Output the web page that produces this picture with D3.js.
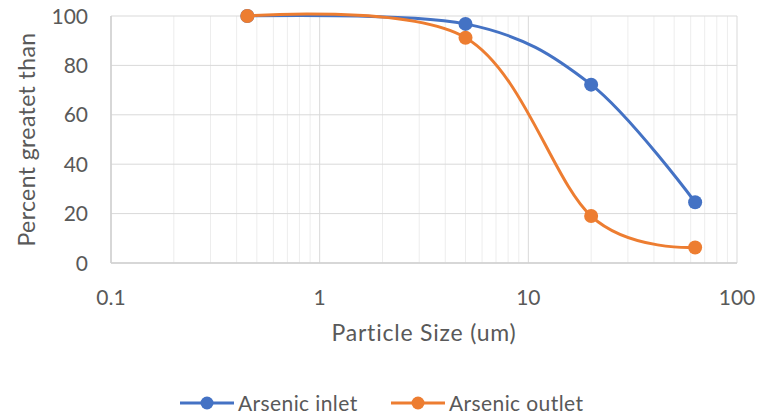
<!DOCTYPE html>
<html>
<head>
<meta charset="utf-8">
<script src="https://cdn.jsdelivr.net/npm/d3@7"></script>
<style>
  body { margin: 0; background: #fff; }
  svg text { font-family: Lato, "Open Sans", sans-serif; fill: #595959; }
</style>
</head>
<body>
<div id="chart"></div>
<script>
(function () {
  const WIDTH = 767;
  const HEIGHT = 417;

  // particle sizes (um) and percent greater than
  const sizes = [0.45, 5, 20, 63];
  const inletValues = [100, 96.8, 72.2, 24.6];
  const outletValues = [100, 91.2, 19.0, 6.3];
  const seriesNames = ["Arsenic inlet", "Arsenic outlet"];
  const seriesColors = ["#4472C4", "#ED7D31"];
  const xTicks = [0.1, 1, 10, 100];
  const yTicks = [0, 20, 40, 60, 80, 100];

  const plot = { left: 111, right: 737, top: 16, bottom: 263 };

  const x = d3.scaleLog().domain([0.1, 100]).range([plot.left, plot.right]);
  const y = d3.scaleLinear().domain([0, 100]).range([plot.bottom, plot.top]);

  const svg = d3.select("#chart").append("svg")
    .attr("width", WIDTH)
    .attr("height", HEIGHT);

  // minor vertical grid (2..9 in each decade)
  const minor = [];
  for (let d = 0.1; d < 100; d *= 10) {
    for (let k = 2; k <= 9; k++) minor.push(d * k);
  }
  svg.append("g").selectAll("line").data(minor).join("line")
    .attr("x1", d => x(d)).attr("x2", d => x(d))
    .attr("y1", plot.top).attr("y2", plot.bottom)
    .attr("stroke", "#ededed").attr("stroke-width", 1);

  // major grid
  svg.append("g").selectAll("line").data(yTicks).join("line")
    .attr("x1", plot.left).attr("x2", plot.right)
    .attr("y1", d => y(d)).attr("y2", d => y(d))
    .attr("stroke", "#d9d9d9").attr("stroke-width", 1);
  svg.append("g").selectAll("line").data(xTicks).join("line")
    .attr("x1", d => x(d)).attr("x2", d => x(d))
    .attr("y1", plot.top).attr("y2", plot.bottom)
    .attr("stroke", "#d9d9d9").attr("stroke-width", 1);

  // axes lines
  svg.append("line")
    .attr("x1", plot.left).attr("x2", plot.right)
    .attr("y1", plot.bottom).attr("y2", plot.bottom)
    .attr("stroke", "#d0d0d0").attr("stroke-width", 1.5);
  svg.append("line")
    .attr("x1", plot.left).attr("x2", plot.left)
    .attr("y1", plot.top).attr("y2", plot.bottom)
    .attr("stroke", "#d0d0d0").attr("stroke-width", 1.5);

  // tick labels
  svg.append("g").selectAll("text").data(yTicks).join("text")
    .attr("x", plot.left - 23)
    .attr("y", d => y(d))
    .attr("dy", "0.36em")
    .attr("text-anchor", "end")
    .style("font-size", "21px")
    .text(d => d);
  svg.append("g").selectAll("text").data(xTicks).join("text")
    .attr("x", d => x(d))
    .attr("y", 305)
    .attr("text-anchor", "middle")
    .style("font-size", "21px")
    .text(d => d);

  // axis titles
  svg.append("text")
    .attr("x", (plot.left + plot.right) / 2)
    .attr("y", 341)
    .attr("text-anchor", "middle")
    .style("font-size", "23px")
    .style("letter-spacing", "0.8px")
    .text("Particle Size (um)");
  svg.append("text")
    .attr("transform", `translate(35,${(plot.top + plot.bottom) / 2}) rotate(-90)`)
    .attr("text-anchor", "middle")
    .style("font-size", "23px")
    .style("letter-spacing", "0.4px")
    .text("Percent greatet than");

  // series
  const series = [inletValues, outletValues].map((vals, i) => ({
    name: seriesNames[i],
    color: seriesColors[i],
    points: sizes.map((s, j) => ({ x: s, y: vals[j] }))
  }));

  const line = d3.line()
    .x(d => x(d.x))
    .y(d => y(d.y))
    .curve(d3.curveCatmullRom.alpha(0));

  const g = svg.append("g").selectAll("g").data(series).join("g");
  g.append("path")
    .attr("d", d => line(d.points))
    .attr("fill", "none")
    .attr("stroke", d => d.color)
    .attr("stroke-width", 3)
    .attr("stroke-linecap", "round");
  g.selectAll("circle").data(d => d.points.map(p => ({ ...p, color: d.color }))).join("circle")
    .attr("cx", d => x(d.x))
    .attr("cy", d => y(d.y))
    .attr("r", 7)
    .attr("fill", d => d.color);

  // legend
  const legendX = [180, 391];
  const legend = svg.append("g").selectAll("g").data(series).join("g")
    .attr("transform", (d, i) => `translate(${legendX[i]},403)`);
  legend.append("line")
    .attr("x1", 0).attr("x2", 54)
    .attr("stroke", d => d.color).attr("stroke-width", 3);
  legend.append("circle")
    .attr("cx", 27).attr("r", 6.5)
    .attr("fill", d => d.color);
  legend.append("text")
    .attr("x", 58)
    .attr("dy", "0.36em")
    .style("font-size", "21px")
    .style("letter-spacing", "0.4px")
    .text(d => d.name);
})();
</script>
</body>
</html>
